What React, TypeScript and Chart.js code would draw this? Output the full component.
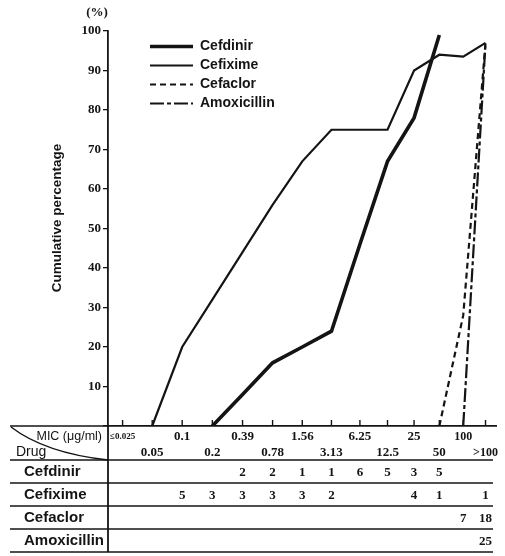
import { useEffect, useRef } from 'react';
import { Chart, CategoryScale, registerables } from 'chart.js';

Chart.register(...registerables);

// MIC classes (µg/ml) along the bottom axis
const micLabels = ['≤0.025', '0.05', '0.1', '0.2', '0.39', '0.78', '1.56', '3.13', '6.25', '12.5', '25', '50', '100', '>100'];

// Cumulative percentage of strains inhibited at each MIC
const cefdinirCumulative = [null, null, null, 0, 8, 16, 20, 24, 46, 67, 78, 99, null, null];
const cefiximeCumulative = [null, 0, 20, 32, 44, 56, 67, 75, 75, 75, 90, 94, 93.5, 97];
const cefaclorCumulative = [null, null, null, null, null, null, null, null, null, null, null, 0, 28, 97];
const amoxicillinCumulative = [null, null, null, null, null, null, null, null, null, null, null, null, 0, 97];

// Number of strains per MIC class
const cefdinirCounts = [null, null, null, null, 2, 2, 1, 1, 6, 5, 3, 5, null, null];
const cefiximeCounts = [null, null, 5, 3, 3, 3, 3, 2, null, null, 4, 1, null, 1];
const cefaclorCounts = [null, null, null, null, null, null, null, null, null, null, null, null, 7, 18];
const amoxicillinCounts = [null, null, null, null, null, null, null, null, null, null, null, null, null, 25];

const drugNames = ['Cefdinir', 'Cefixime', 'Cefaclor', 'Amoxicillin'];

const INK = '#141414';
const SERIF = '"Liberation Serif", "DejaVu Serif", serif';
const SANS = '"Liberation Sans", "DejaVu Sans", sans-serif';

// Category axis whose class spacing narrows slightly toward the high-MIC end,
// as on the printed figure.
class PrintedCategoryScale extends CategoryScale {
  static id = 'printedCategory';
  static defaults = CategoryScale.defaults;
  getPixelForDecimal(decimal: number) {
    const slots = (this as any)._valueRange || 1;
    const spacing = (i: number) => 29.37 * i + 0.278 * i * i - 0.0299 * i * i * i;
    const lo = spacing(-0.5);
    const hi = spacing(slots - 0.5);
    return super.getPixelForDecimal((spacing(decimal * slots - 0.5) - lo) / (hi - lo));
  }
}
Chart.register(PrintedCategoryScale);

const strokeLine = (ctx: CanvasRenderingContext2D, x1: number, y1: number, x2: number, y2: number) => {
  ctx.beginPath();
  ctx.moveTo(x1, y1);
  ctx.lineTo(x2, y2);
  ctx.stroke();
};

const annotationsPlugin = {
  id: 'micAnnotations',
  afterDraw(chart: any) {
    const { ctx, chartArea, scales } = chart;
    const x = scales.x;
    const axisX = chartArea.left;
    const top = chartArea.bottom;
    const left = 10;
    const right = 493;
    const rowLines = [460, 483, 506, 529, 552];

    ctx.save();
    ctx.strokeStyle = INK;
    ctx.fillStyle = INK;
    ctx.lineCap = 'butt';

    // inward tick marks on the MIC axis
    ctx.lineWidth = 1.4;
    x.ticks.forEach((_: any, i: number) => {
      const px = x.getPixelForTick(i);
      strokeLine(ctx, px, top, px, top - 6);
    });

    // table rules
    ctx.lineWidth = 1.6;
    strokeLine(ctx, left, top, axisX, top);
    rowLines.forEach((y) => strokeLine(ctx, left, y, right, y));
    ctx.lineWidth = 1.8;
    strokeLine(ctx, axisX, top, axisX, rowLines[rowLines.length - 1]);

    // diagonal of the header cell
    ctx.lineWidth = 1.4;
    ctx.beginPath();
    ctx.moveTo(left + 1, top + 1);
    ctx.quadraticCurveTo(45, 453, axisX, rowLines[0]);
    ctx.stroke();

    // header cell text
    ctx.textBaseline = 'middle';
    ctx.textAlign = 'right';
    ctx.font = `12.5px ${SANS}`;
    ctx.fillText('MIC (μg/ml)', 102, 437);
    ctx.textAlign = 'left';
    ctx.font = `14px ${SANS}`;
    ctx.fillText('Drug', 16, 452);

    // drug rows with strain counts
    const rowCounts = [cefdinirCounts, cefiximeCounts, cefaclorCounts, amoxicillinCounts];
    rowCounts.forEach((counts, r) => {
      const cy = (rowLines[r] + rowLines[r + 1]) / 2;
      ctx.textAlign = 'left';
      ctx.font = `bold 15px ${SANS}`;
      ctx.fillText(drugNames[r], 24, cy);
      ctx.textAlign = 'center';
      ctx.font = `bold 13px ${SERIF}`;
      counts.forEach((c, i) => {
        if (c != null) ctx.fillText(String(c), x.getPixelForValue(i), cy + 1);
      });
    });

    // legend
    chart.data.datasets.forEach((ds: any, k: number) => {
      const y = 46.5 + k * 19;
      ctx.lineWidth = ds.borderWidth;
      ctx.setLineDash(ds.borderDash || []);
      strokeLine(ctx, 150, y, 193, y);
      ctx.setLineDash([]);
      ctx.textAlign = 'left';
      ctx.font = `bold 14px ${SANS}`;
      ctx.fillText(ds.label, 200, y);
    });

    // unit and axis title
    ctx.textAlign = 'center';
    ctx.font = `bold 13px ${SERIF}`;
    ctx.fillText('(%)', 97, 13);
    ctx.translate(57, 218);
    ctx.rotate(-Math.PI / 2);
    ctx.font = `bold 13.5px ${SANS}`;
    ctx.fillText('Cumulative percentage', 0, 0);

    ctx.restore();
  },
};

export default function App() {
  const canvasRef = useRef<HTMLCanvasElement>(null);

  useEffect(() => {
    const line = (label: string, data: (number | null)[], width: number, dash: number[]) => ({
      label,
      data,
      borderColor: INK,
      borderWidth: width,
      borderDash: dash,
      pointRadius: 0,
      tension: 0,
      fill: false,
    });

    const chart = new Chart(canvasRef.current!, {
      type: 'line',
      data: {
        labels: micLabels,
        datasets: [
          line('Cefdinir', cefdinirCumulative, 3.6, []),
          line('Cefixime', cefiximeCumulative, 2.2, []),
          line('Cefaclor', cefaclorCumulative, 2.2, [6, 4]),
          line('Amoxicillin', amoxicillinCumulative, 2.2, [14, 3, 4, 3]),
        ],
      },
      plugins: [annotationsPlugin],
      options: {
        responsive: false,
        animation: false,
        events: [],
        layout: { padding: { top: 31, right: 9, bottom: 0, left: 0 } },
        plugins: { legend: { display: false }, tooltip: { enabled: false }, title: { display: false } },
        scales: {
          x: {
            type: 'printedCategory' as any,
            offset: true,
            grid: { display: true, drawOnChartArea: false, drawTicks: false },
            border: { display: true, color: INK, width: 1.8 },
            ticks: {
              autoSkip: false,
              maxRotation: 0,
              minRotation: 0,
              padding: 3,
              color: INK,
              font: (ctx: any) => {
                const label = micLabels[ctx.index];
                const size = label === '≤0.025' ? 9 : label === '100' || label === '>100' ? 12 : 13;
                return { family: SERIF, weight: 'bold', size, lineHeight: '16px' };
              },
              callback: (_v: any, index: number) =>
                index % 2 === 0 ? [micLabels[index], ''] : ['', micLabels[index]],
            },
            afterFit: (scale: any) => {
              scale.height = 130;
            },
          },
          y: {
            min: 0,
            max: 100,
            grid: { drawOnChartArea: false, drawTicks: true, tickLength: 5, color: INK, lineWidth: 1.3 },
            border: { display: true, color: INK, width: 1.8 },
            ticks: {
              stepSize: 10,
              padding: 2,
              color: INK,
              font: { family: SERIF, weight: 'bold', size: 13 },
              callback: (v: any) => (v === 0 ? '' : String(v)),
            },
            afterFit: (scale: any) => {
              scale.width = 108;
            },
          },
        },
      } as any,
    });

    return () => chart.destroy();
  }, []);

  return (
    <canvas
      ref={canvasRef}
      width={505}
      height={556}
      style={{ position: 'absolute', left: 0, top: 0, background: '#fff' }}
    />
  );
}
